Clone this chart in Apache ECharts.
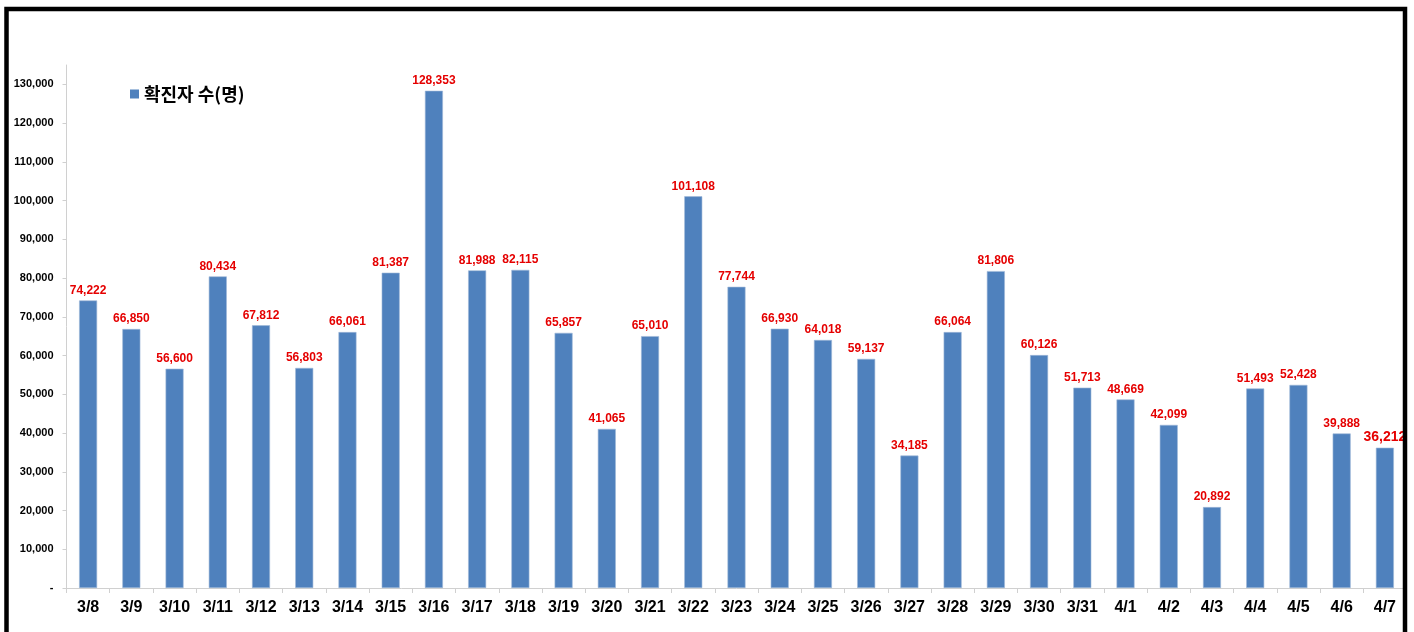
<!DOCTYPE html>
<html>
<head>
<meta charset="utf-8">
<script src="https://cdn.jsdelivr.net/npm/echarts@6/dist/echarts.min.js"></script>
<style>
html,body{margin:0;padding:0;background:#fff;}
#chart{width:1414px;height:632px;}
</style>
</head>
<body>
<div id="chart"></div>
<script>
const categories = ['3/8','3/9','3/10','3/11','3/12','3/13','3/14','3/15','3/16','3/17','3/18','3/19','3/20','3/21','3/22','3/23','3/24','3/25','3/26','3/27','3/28','3/29','3/30','3/31','4/1','4/2','4/3','4/4','4/5','4/6','4/7'];
const confirmed = [74222,66850,56600,80434,67812,56803,66061,81387,128353,81988,82115,65857,41065,65010,101108,77744,66930,64018,59137,34185,66064,81806,60126,51713,48669,42099,20892,51493,52428,39888,36212];
const seriesName = '확진자 수(명)';
const yTicks = {min: 0, max: 135000, interval: 10000};

const chart = echarts.init(document.getElementById('chart'));
const lastIdx = confirmed.length - 1;
chart.setOption({
  animation: false,
  backgroundColor: '#fff',
  grid: {left: 66.5, right: 7.5, top: 65, bottom: 44, containLabel: false},
  legend: {
    show: true, left: 125, top: 80, itemWidth: 9, itemHeight: 9, itemGap: 10, icon: 'rect',
    data: [seriesName],
    itemStyle: {borderWidth: 0},
    textStyle: {fontFamily: '"Noto Sans CJK KR", sans-serif', fontWeight: 'bold', fontSize: 18, color: '#000', padding: [0, 0, 0, 0]}
  },
  xAxis: {
    type: 'category', data: categories,
    axisLine: {lineStyle: {color: '#d0d0d0'}},
    axisTick: {show: true, alignWithLabel: false, length: 5, lineStyle: {color: '#d0d0d0'}},
    axisLabel: {color: '#000', fontFamily: 'Liberation Sans, Arial, sans-serif', fontWeight: 'bold', fontSize: 16, margin: 12, interval: 0}
  },
  yAxis: {
    type: 'value', min: yTicks.min, max: yTicks.max, interval: yTicks.interval,
    splitLine: {show: false},
    axisLine: {show: true, lineStyle: {color: '#d0d0d0'}},
    axisTick: {show: true, length: 4, lineStyle: {color: '#d0d0d0'}},
    axisLabel: {
      showMaxLabel: false, color: '#000', fontFamily: 'Liberation Sans, Arial, sans-serif', fontWeight: 'bold', fontSize: 11, margin: 13,
      formatter: v => v === 0 ? '-' : v.toLocaleString('en-US')
    }
  },
  series: [{
    name: seriesName, type: 'bar', barWidth: 18,
    data: confirmed.map((v, i) => i === lastIdx ? {value: v, label: {fontSize: 14}} : v),
    itemStyle: {color: '#4F81BD', borderColor: '#9fb8d8', borderWidth: 0.6},
    label: {
      show: true, position: 'top', distance: 4, color: '#E50000',
      fontFamily: 'Liberation Sans, Arial, sans-serif', fontWeight: 'bold', fontSize: 12,
      formatter: p => p.value.toLocaleString('en-US')
    }
  }],
  graphic: [{
    type: 'rect', z: 100, silent: true,
    shape: {x: 6.5, y: 9, width: 1398.5, height: 700},
    style: {fill: 'none', stroke: '#000', lineWidth: 4.5}
  }]
});
</script>
</body>
</html>
